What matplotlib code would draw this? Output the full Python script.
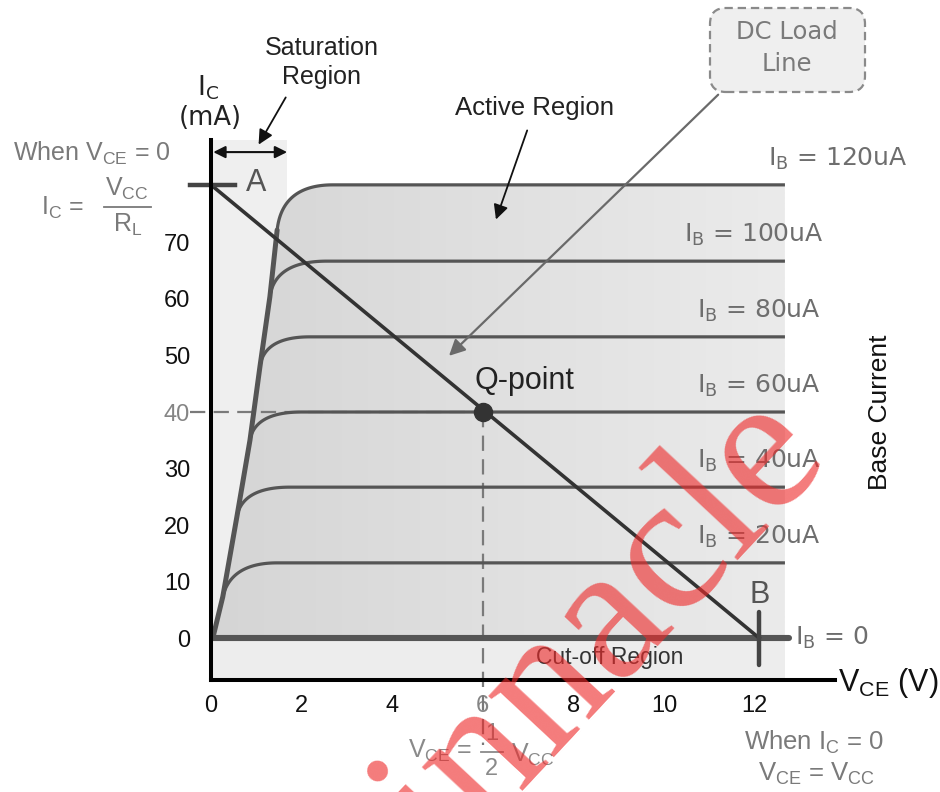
import matplotlib
matplotlib.use('Agg')
import matplotlib.pyplot as plt
import numpy as np
from matplotlib.patches import FancyBboxPatch, Rectangle, Polygon
from matplotlib.colors import LinearSegmentedColormap
from matplotlib.transforms import IdentityTransform

plt.rcParams['font.family'] = ['Liberation Sans', 'DejaVu Sans']
plt.rcParams['lines.scale_dashes'] = False

# 数据
vce_ticks = [0, 2, 4, 6, 8, 10, 12]
ic_ticks = [0, 10, 20, 30, 40, 50, 60, 70]
ib_names = ['0', '20uA', '40uA', '60uA', '80uA', '100uA', '120uA']
ic_levels = [0, 13.3, 26.7, 40, 53.3, 66.7, 80.2]
# saturation line, and where each IB curve leaves it
sat_v = [0.04, 0.26, 0.57, 0.86, 1.08, 1.30, 1.46]
sat_i = [0, 7.3, 21.4, 35, 48, 60.4, 72.2]
# voltage where each curve becomes flat
knee_v = [0.04, 1.46, 1.74, 2.0, 2.18, 2.56, 2.69]
v_end = 12.67
vcc = 12.1
ic_max = 80.2
q_v, q_i = 6, 40

# layout of the IB labels (V position)
ib_label_v = [12.89, 10.73, 10.73, 10.73, 10.73, 10.44, 12.3]

GREY = '#6e6e6e'
LGREY = '#858585'
TGREY = '#7a7a7a'
CURVE = '#555555'


def bez(p0, p1, p2, n=50):
    t = np.linspace(0, 1, n)[:, None]
    p0, p1, p2 = np.array(p0), np.array(p1), np.array(p2)
    return (1 - t) ** 2 * p0 + 2 * (1 - t) * t * p1 + t ** 2 * p2


fig = plt.figure(figsize=(9.4, 7.92), dpi=100)
ax = fig.add_axes([211 / 940, 112 / 792, 624 / 940, 540 / 792])

# knee curves
curves = []
for k in range(1, len(ic_levels)):
    lvl = ic_levels[k]
    slope = (sat_v[k] - sat_v[k - 1]) / (sat_i[k] - sat_i[k - 1])
    p0 = (sat_v[k], sat_i[k])
    p1 = (sat_v[k] + slope * (lvl - sat_i[k]), lvl)
    p2 = (knee_v[k], lvl)
    c = bez(p0, p1, p2)
    c = np.vstack([c, [[v_end, lvl]]])
    curves.append(c)

# background regions
ax.add_patch(Rectangle((0.04, -7.43), 1.64, 95.6, fc='#efefef', ec='none', zorder=0, clip_on=False))
ax.add_patch(Rectangle((0.04, -7.43), v_end - 0.04, 7.43, fc='#ededed', ec='none', zorder=0))
top = curves[-1]
poly_pts = np.vstack([np.column_stack([sat_v, sat_i]), top, [[v_end, 0], [sat_v[0], 0]]])
poly = Polygon(poly_pts, closed=True, fc='none', ec='none', transform=ax.transData)
ax.add_patch(poly)
cmap = LinearSegmentedColormap.from_list('g', ['#d5d5d5', '#ebebeb'])
grad = np.linspace(0, 1, 256).reshape(1, -1)
im = ax.imshow(grad, extent=[0, v_end, 0, ic_max], aspect='auto', cmap=cmap, zorder=1)
im.set_clip_path(poly)

# IB curves
for c in curves:
    ax.plot(c[:, 0], c[:, 1], color=CURVE, lw=2.3, zorder=3, solid_capstyle='butt')
ax.plot(sat_v, sat_i, color=CURVE, lw=3.6, zorder=3, solid_capstyle='round')
ax.plot([sat_v[0], v_end + 0.1], [0, 0], color=CURVE, lw=4.4, zorder=3, solid_capstyle='round', clip_on=False)

# IB labels
for name, lvl, lv in zip(ib_names, ic_levels, ib_label_v):
    off = 0 if lvl == 0 else 4.6
    ax.text(lv, lvl + off, r'$\mathregular{I_B}$ = ' + name, family=['DejaVu Sans'], fontsize=18,
            color=GREY, ha='left', va='center', clip_on=False)

# dashed Q lines
ax.plot([-0.46, q_v], [q_i, q_i], color='#7a7a7a', lw=1.6, dashes=(11, 6), zorder=2, clip_on=False)
ax.plot([q_v, q_v], [q_i, -18.9], color='#7a7a7a', lw=1.6, dashes=(11, 6), zorder=2, clip_on=False)

# load line
ax.plot([0, vcc], [ic_max, 0], color='#333333', lw=2.6, zorder=4, clip_on=False)
ax.plot([-0.46, 0.53], [ic_max, ic_max], color='#444444', lw=3.2, zorder=4, clip_on=False)
ax.plot([vcc, vcc], [4.6, -4.8], color='#444444', lw=3.2, zorder=4, solid_capstyle='round')
ax.plot([q_v], [q_i], 'o', color='#333333', ms=13, zorder=5)

# axes
ax.set_xlim(0, 13.775)
ax.set_ylim(-7.43, 88.14)
for s in ['top', 'right']:
    ax.spines[s].set_visible(False)
for s in ['left', 'bottom']:
    ax.spines[s].set_linewidth(2.9)
    ax.spines[s].set_zorder(6)
ax.set_xticks(vce_ticks)
ax.set_yticks(ic_ticks)
ax.tick_params(length=0, labelsize=17, labelcolor='#111111')
ax.tick_params(axis='y', pad=15)
ax.tick_params(axis='x', pad=11)
for lab in ax.get_xticklabels():
    if lab.get_text() == '6':
        lab.set_color(LGREY)
for lab in ax.get_yticklabels():
    if lab.get_text() == '40':
        lab.set_color(LGREY)

# texts
ax.text(2.45, 101.9, 'Saturation\nRegion', fontsize=18, ha='center', va='center',
        linespacing=1.25, color='#222222')
ax.annotate('', xy=(1.02, 86.9), xytext=(1.68, 96.1), annotation_clip=False,
            arrowprops=dict(arrowstyle='-|>', color='#111111', lw=1.3, mutation_scale=22))
ax.annotate('', xy=(0.05, 86.0), xytext=(1.68, 86.0), annotation_clip=False,
            arrowprops=dict(arrowstyle='<|-|>', color='#111111', lw=1.5, mutation_scale=18, shrinkA=0, shrinkB=0))
ax.text(0.99, 80.6, 'A', fontsize=22, color='#555555', ha='center', va='center')
ax.text(12.12, 7.6, 'B', fontsize=22, color='#555555', ha='center', va='center')
ax.text(-0.07, 97.3, r'$\mathregular{I_C}$', fontsize=19, ha='center', va='center',
        color='#222222', family=['DejaVu Sans'])
ax.text(-0.02, 92.1, '(mA)', fontsize=18.5, ha='center', va='center', color='#222222',
        family=['DejaVu Sans'])
ax.text(-2.63, 85.8, r'When $\mathregular{V_{CE}}$ = 0', fontsize=18, ha='center', va='center', color=TGREY)
# Ic = Vcc / RL
ax.text(-3.27, 76.1, r'$\mathregular{I_C}$ =', fontsize=18, ha='center', va='center', color=TGREY)
ax.text(-1.85, 79.4, r'$\mathregular{V_{CC}}$', fontsize=18, ha='center', va='center', color=TGREY)
ax.plot([-2.36, -1.33], [76.2, 76.2], color=TGREY, lw=1.3, clip_on=False)
ax.text(-1.85, 73.2, r'$\mathregular{R_L}$', fontsize=18, ha='center', va='center', color=TGREY)

ax.text(7.15, 93.8, 'Active Region', fontsize=18.5, ha='center', va='center', color='#222222')
ax.annotate('', xy=(6.27, 73.6), xytext=(7.0, 90.3), annotation_clip=False,
            arrowprops=dict(arrowstyle='-|>', color='#111111', lw=1.3, mutation_scale=22))
ax.text(6.93, 45.5, 'Q-point', fontsize=22, ha='center', va='center', color='#222222')
ax.text(8.81, -3.5, 'Cut-off Region', fontsize=16.5, ha='center', va='center', color='#333333')
ax.text(13.85, -8.0, r'$\mathregular{V_{CE}}$ (V)', fontsize=22, ha='left', va='center', color='#111111')
ax.text(14.77, 40, 'Base Current', fontsize=19, rotation=90, ha='center', va='center', color='#111111')
ax.text(13.31, -18.4, r'When $\mathregular{I_C}$ = 0', fontsize=18.5, ha='center', va='center', color=TGREY)
ax.text(13.36, -24.1, r'$\mathregular{V_{CE}}$ = $\mathregular{V_{CC}}$', fontsize=18.5, ha='center',
        va='center', color=TGREY)
# Vce = 1/2 Vcc
ax.text(5.06, -20.0, r'$\mathregular{V_{CE}}$ =', fontsize=18, ha='center', va='center', color='#8a8a8a')
ax.text(6.2, -16.9, '1', fontsize=17, ha='center', va='center', color='#8a8a8a')
ax.plot([5.96, 6.45], [-20.1, -20.1], color='#8a8a8a', lw=1.3, clip_on=False)
ax.text(6.2, -23.2, '2', fontsize=17, ha='center', va='center', color='#8a8a8a')
ax.text(7.1, -20.6, r'$\mathregular{V_{CC}}$', fontsize=18, ha='center', va='center', color='#8a8a8a')

# DC load line box
box = FancyBboxPatch((710, 792 - 92), 155, 84, boxstyle='round,pad=0,rounding_size=16',
                     transform=IdentityTransform(), fc='#efefef', ec='#8a8a8a', lw=1.6,
                     ls=(0, (6, 3.5)), clip_on=False, zorder=2)
ax.add_artist(box)
fig.text(787 / 940, 1 - 48 / 792, 'DC Load\nLine', family=['DejaVu Sans'], fontsize=17.5, ha='center',
         va='center', color='#7a7a7a', linespacing=1.45)
ax.annotate('', xy=(5.21, 49.6), xytext=(11.24, 96.5), annotation_clip=False,
            arrowprops=dict(arrowstyle='-|>', color='#6a6a6a', lw=1.6, mutation_scale=24))

# watermark
fig.text(0.603, 0.155, 'Pinnacle', family=['Liberation Serif'], fontsize=140, rotation=47,
         rotation_mode='anchor', ha='center', va='center', color='#ee2a2a', alpha=0.62, zorder=10)

fig.savefig('out.png', dpi=100)
